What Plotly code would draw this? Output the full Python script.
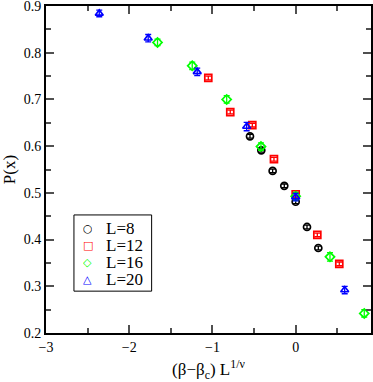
import plotly.graph_objects as go

# data (scaled variable vs P(x))
x_L8 = [-0.549, -0.413, -0.277, -0.137, 0.0, 0.136, 0.272]
y_L8 = [0.621, 0.591, 0.547, 0.515, 0.481, 0.427, 0.382]
e_L8 = [0.004, 0.004, 0.004, 0.004, 0.004, 0.004, 0.004]

x_L12 = [-1.05, -0.786, -0.521, -0.261, 0.0, 0.26, 0.524]
y_L12 = [0.746, 0.673, 0.645, 0.572, 0.497, 0.410, 0.348]
e_L12 = [0.004, 0.004, 0.004, 0.004, 0.004, 0.004, 0.004]

x_L16 = [-1.66, -1.243, -0.829, -0.417, 0.0, 0.412, 0.824]
y_L16 = [0.822, 0.772, 0.700, 0.599, 0.493, 0.363, 0.242]
e_L16 = [0.007, 0.008, 0.008, 0.008, 0.008, 0.009, 0.008]

x_L20 = [-2.36, -1.772, -1.183, -0.589, 0.0, 0.589]
y_L20 = [0.884, 0.831, 0.759, 0.642, 0.491, 0.292]
e_L20 = [0.007, 0.008, 0.008, 0.009, 0.008, 0.008]

x_ticks = [-3, -2, -1, 0]
y_ticks = [0.2, 0.3, 0.4, 0.5, 0.6, 0.7, 0.8, 0.9]
y_ticktext = ['0.2', '0.3', '0.4', '0.5', '0.6', '0.7', '0.8', '0.9']

series = [
    ('L=8', x_L8, y_L8, e_L8, 'circle-open', 'rgb(0,0,0)', '○'),
    ('L=12', x_L12, y_L12, e_L12, 'square-open', 'rgb(255,0,0)', '□'),
    ('L=16', x_L16, y_L16, e_L16, 'diamond-open', 'rgb(0,255,0)', '◇'),
    ('L=20', x_L20, y_L20, e_L20, 'triangle-up-open', 'rgb(0,0,255)', '△'),
]

font = 'Liberation Serif'

fig = go.Figure()
for name, xs, ys, es, sym, col, glyph in series:
    fig.add_trace(go.Scatter(
        x=xs, y=ys, mode='markers', name=name, showlegend=False,
        marker=dict(symbol=sym, size=7, color=col, line=dict(width=1.7, color=col)),
        error_y=dict(type='data', array=es, color=col, thickness=1.3, width=3),
    ))

# legend box drawn by hand so the row spacing matches the reference
fig.add_shape(type='rect', xref='paper', yref='paper', x0=0.086, x1=0.325, y0=0.128, y1=0.361,
              line=dict(color='black', width=1), fillcolor='white', layer='above')
row_y = [0.321, 0.269, 0.217, 0.165]
for (name, xs, ys, es, sym, col, glyph), ry in zip(series, row_y):
    fig.add_annotation(x=0.129, y=ry, xref='paper', yref='paper', text='<b>' + glyph + '</b>',
                       showarrow=False, xanchor='center', yanchor='middle', height=12, borderpad=0,
                       font=dict(family='DejaVu Sans', size=11, color=col))
    fig.add_annotation(x=0.182, y=ry, xref='paper', yref='paper', text=name, showarrow=False,
                       xanchor='left', yanchor='middle', height=14, borderpad=0,
                       font=dict(family=font, size=17, color='black'))

axis_common = dict(
    showgrid=False, zeroline=False, automargin=False, ticklabeloverflow='allow',
    showline=True, linecolor='black', linewidth=2, mirror='allticks',
    ticks='inside', ticklen=8, tickwidth=1.5, tickcolor='rgb(80,80,80)',
    tickfont=dict(family=font, size=14, color='black'),
)

fig.update_layout(
    width=373, height=382,
    margin=dict(l=46, r=2, t=6, b=49),
    plot_bgcolor='white', paper_bgcolor='white',
    xaxis=dict(
        range=[-3, 0.905], tickvals=x_ticks,
        minor=dict(dtick=0.5, tick0=0, ticks='inside', ticklen=5, tickwidth=1.5, tickcolor='rgb(80,80,80)'),
        title=dict(text='(β−β<sub>c</sub>) L<sup>1/ν</sup>', font=dict(family=font, size=17, color='black')),
        **axis_common),
    yaxis=dict(
        range=[0.2, 0.9], tickvals=y_ticks, ticktext=y_ticktext,
        minor=dict(dtick=0.05, tick0=0.2, ticks='inside', ticklen=5, tickwidth=1.5, tickcolor='rgb(80,80,80)'),
        title=dict(text='P(x)', font=dict(family=font, size=17, color='black')),
        **axis_common),
    showlegend=False,
)

# the page body has a default 8px margin; remove it so the figure sits at the corner
fig.write_html('out.html', config={'displayModeBar': False},
               post_script="document.body.style.margin='0';")
